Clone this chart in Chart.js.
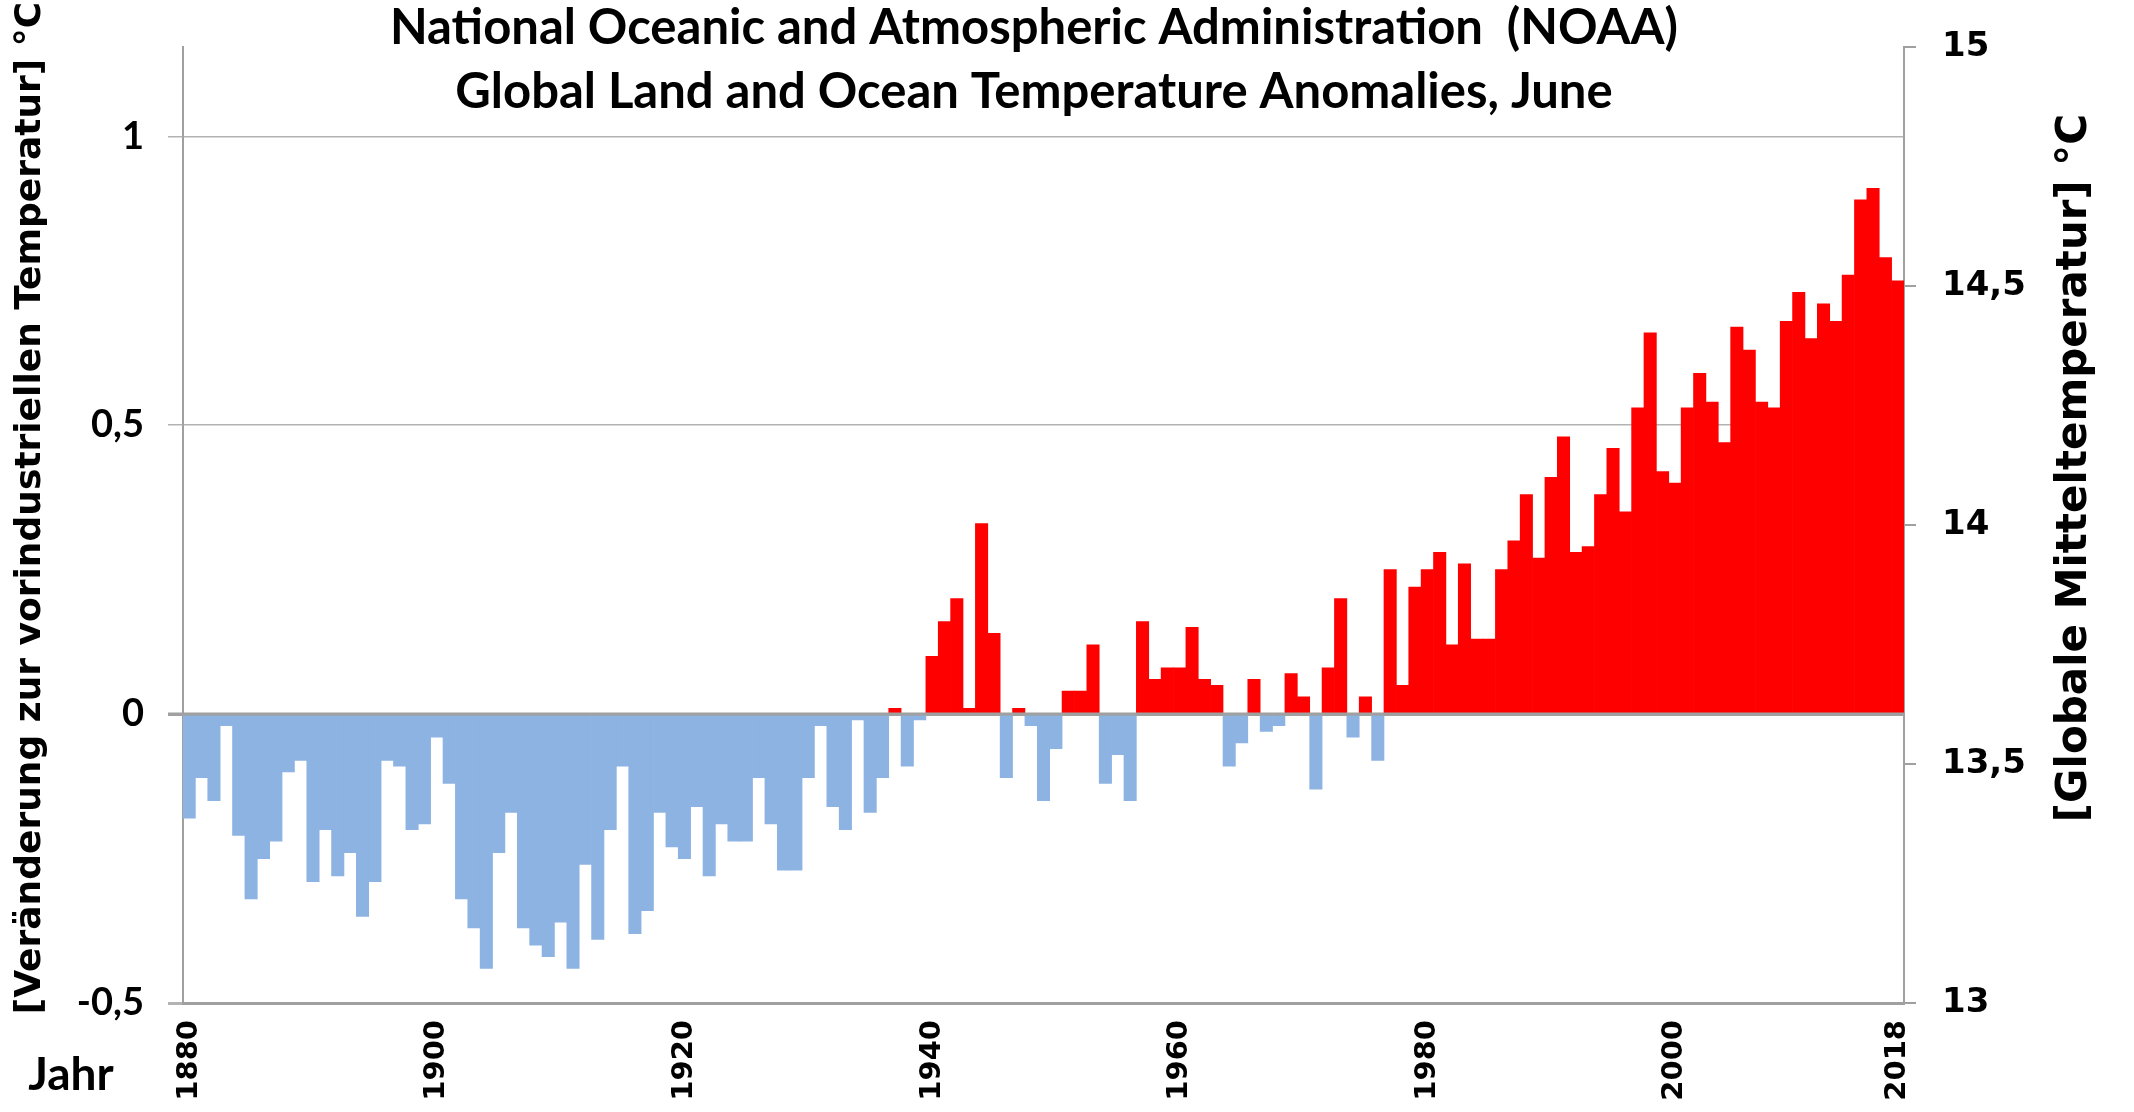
<!DOCTYPE html>
<html>
<head>
<meta charset="utf-8">
<script src="https://cdn.jsdelivr.net/npm/chart.js@4"></script>
<style>
  html, body { margin: 0; padding: 0; background: #fff; }
  #chart { display: block; }
</style>
</head>
<body>
<canvas id="chart" width="2134" height="1112"></canvas>
<script>
// Jahre 1880 - 2018
const years = Array.from({ length: 139 }, (_, i) => 1880 + i);

// Juni-Anomalien (°C)
const anomalies = [
    -0.18, -0.11, -0.15, -0.02, -0.21, -0.32, -0.25, -0.22, -0.10, -0.08,
    -0.29, -0.20, -0.28, -0.24, -0.35, -0.29, -0.08, -0.09, -0.20, -0.19,
    -0.04, -0.12, -0.32, -0.37, -0.44, -0.24, -0.17, -0.37, -0.40, -0.42,
    -0.36, -0.44, -0.26, -0.39, -0.20, -0.09, -0.38, -0.34, -0.17, -0.23,
    -0.25, -0.16, -0.28, -0.19, -0.22, -0.22, -0.11, -0.19, -0.27, -0.27,
    -0.11, -0.02, -0.16, -0.20, -0.01, -0.17, -0.11, 0.01, -0.09, -0.01,
    0.10, 0.16, 0.20, 0.01, 0.33, 0.14, -0.11, 0.01, -0.02, -0.15,
    -0.06, 0.04, 0.04, 0.12, -0.12, -0.07, -0.15, 0.16, 0.06, 0.08,
    0.08, 0.15, 0.06, 0.05, -0.09, -0.05, 0.06, -0.03, -0.02, 0.07,
    0.03, -0.13, 0.08, 0.20, -0.04, 0.03, -0.08, 0.25, 0.05, 0.22,
    0.25, 0.28, 0.12, 0.26, 0.13, 0.13, 0.25, 0.30, 0.38, 0.27,
    0.41, 0.48, 0.28, 0.29, 0.38, 0.46, 0.35, 0.53, 0.66, 0.42,
    0.40, 0.53, 0.59, 0.54, 0.47, 0.67, 0.63, 0.54, 0.53, 0.68,
    0.73, 0.65, 0.71, 0.68, 0.76, 0.89, 0.91, 0.79, 0.75
];

const xTickYears = [1880, 1900, 1920, 1940, 1960, 1980, 2000, 2018];
const leftTicks = [-0.5, 0, 0.5, 1];
const rightTicks = [13, 13.5, 14, 14.5, 15];

const titleLines = [
    'National Oceanic and Atmospheric Administration  (NOAA)',
    'Global Land and Ocean Temperature Anomalies, June'
];
const leftTitle = '[Veränderung zur vorindustriellen Temperatur] °C';
const rightTitle = '[Globale Mitteltemperatur] °C';
const xTitle = 'Jahr';

const RED = '#ff0000';
const BLUE = '#8db3e2';
const GRID = '#b3b3b3';
const AXIS = '#a0a0a0';

const deComma = v => String(v).replace('.', ',');

// Titel und Achsenbeschriftungen selbst zeichnen
const textPlugin = {
    id: 'texts',
    afterDatasetsDraw(chart) {
        // Nulllinie über die Balken legen
        const ctx = chart.ctx;
        const y0 = chart.scales.y.getPixelForValue(0);
        ctx.save();
        ctx.strokeStyle = AXIS;
        ctx.lineWidth = 3;
        ctx.beginPath();
        ctx.moveTo(chart.chartArea.left - 15, y0);
        ctx.lineTo(chart.chartArea.right, y0);
        ctx.stroke();
        ctx.restore();
    },
    afterDraw(chart) {
        const ctx = chart.ctx;
        ctx.save();
        ctx.fillStyle = '#000';
        ctx.textAlign = 'center';
        ctx.textBaseline = 'middle';
        ctx.font = 'bold 49px Lato';
        ctx.fillText(titleLines[0], 1034, 28);
        ctx.fillText(titleLines[1], 1034, 92);

        ctx.font = 'bold 46px Lato';
        ctx.fillText(xTitle, 71, 1075);

        ctx.save();
        ctx.translate(31, 508);
        ctx.rotate(-Math.PI / 2);
        ctx.font = 'bold 36px "DejaVu Sans"';
        ctx.fillText(leftTitle, 0, 0);
        ctx.restore();

        ctx.save();
        ctx.translate(2075, 468);
        ctx.rotate(-Math.PI / 2);
        ctx.font = 'bold 42px "DejaVu Sans"';
        ctx.fillText(rightTitle, 0, 0);
        ctx.restore();
        ctx.restore();
    }
};

const ctx = document.getElementById('chart').getContext('2d');
new Chart(ctx, {
    type: 'bar',
    data: {
        labels: years,
        datasets: [{
            data: anomalies,
            backgroundColor: c => (c.raw >= 0 ? RED : BLUE),
            borderWidth: 0,
            barPercentage: 1,
            categoryPercentage: 1,
            yAxisID: 'y'
        }]
    },
    options: {
        responsive: false,
        devicePixelRatio: 1,
        animation: false,
        layout: { padding: { top: 43, left: 0, right: 0, bottom: 0 } },
        plugins: {
            legend: { display: false },
            tooltip: { enabled: false }
        },
        scales: {
            x: {
                type: 'category',
                offset: true,
                grid: { display: false },
                border: { display: true, color: AXIS, width: 3 },
                ticks: {
                    autoSkip: false,
                    minRotation: 90,
                    maxRotation: 90,
                    padding: 9,
                    color: '#000',
                    font: { family: 'DejaVu Sans', weight: 'bold', size: 29 },
                    callback: (v, i) => (xTickYears.includes(years[i]) ? String(years[i]) : '')
                },
                afterFit: s => { s.height = 109; }
            },
            y: {
                position: 'left',
                min: -0.5,
                max: 1.155,
                afterBuildTicks: s => { s.ticks = leftTicks.map(v => ({ value: v })); },
                grid: {
                    color: c => (c.tick && c.tick.value === 0 ? AXIS : GRID),
                    lineWidth: c => (c.tick && (c.tick.value === 0 || c.tick.value === -0.5) ? 3 : 1.5),
                    tickLength: 15
                },
                border: { display: true, color: AXIS, width: 2 },
                ticks: {
                    padding: 24,
                    color: '#000',
                    font: { family: 'Lato', weight: 'bold', size: 38 },
                    callback: v => deComma(v)
                },
                afterFit: s => { s.width = 183; }
            },
            y2: {
                position: 'right',
                min: 13,
                max: 15,
                afterBuildTicks: s => { s.ticks = rightTicks.map(v => ({ value: v })); },
                grid: { drawOnChartArea: false, color: AXIS, lineWidth: 2, tickLength: 12 },
                border: { display: true, color: AXIS, width: 2 },
                ticks: {
                    padding: 26,
                    color: '#000',
                    font: { family: 'DejaVu Sans', weight: 'bold', size: 34 },
                    callback: v => deComma(v)
                },
                afterFit: s => { s.width = 230; }
            }
        }
    },
    plugins: [textPlugin]
});
</script>
</body>
</html>
